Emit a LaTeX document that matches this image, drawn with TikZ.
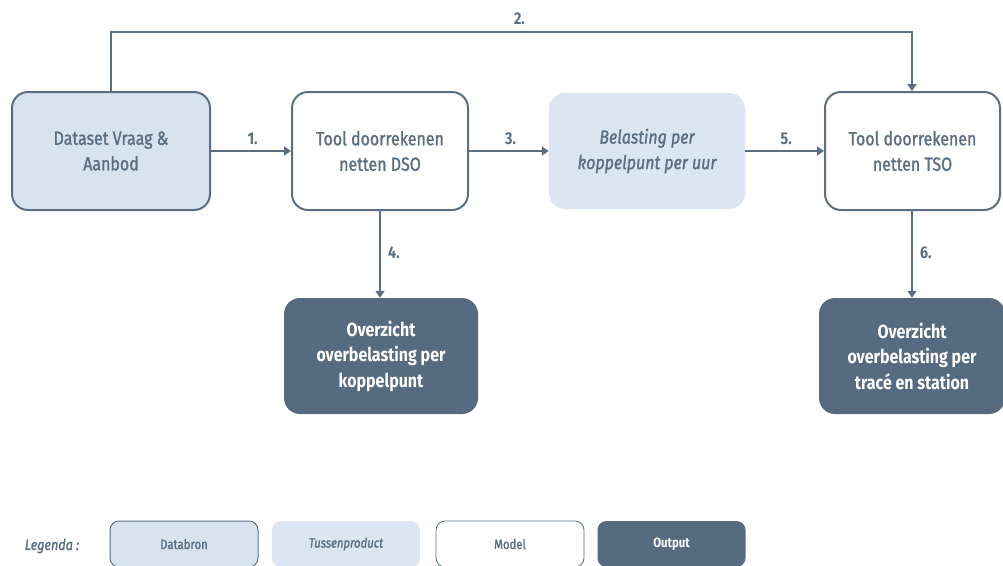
\documentclass[tikz,border=0pt]{standalone}
\usepackage{fontspec}
\setmainfont{Fira Sans}[FakeStretch=0.84]
\newfontfamily\medfont{Fira Sans}[FakeStretch=0.84, FakeBold=1.3]
\newfontfamily\heavyfont{Fira Sans}[FakeStretch=0.9, FakeBold=1.5, UprightFont=*, BoldFont=* Bold]
\usetikzlibrary{arrows.meta}
\definecolor{ink}{HTML}{5B6E82}
\definecolor{dark}{HTML}{576B80}
\definecolor{lightA}{HTML}{D9E3F0}
\definecolor{lightB}{HTML}{DCE5F2}
\tikzset{
  base/.style={rounded corners=16pt, align=center, inner sep=0pt, font=\fontsize{19}{25.5}\selectfont\medfont, text=ink},
  databox/.style={base, draw=ink, line width=2pt, fill=lightA},
  tussbox/.style={base, fill=lightB},
  modelbox/.style={base, draw=ink, line width=2pt, fill=white},
  outbox/.style={base, fill=dark, text=white, font=\fontsize{19}{25.5}\selectfont\bfseries},
  conn/.style={draw=ink, line width=2pt, -{Triangle[length=7pt,width=9pt]}},
  num/.style={text=ink, inner sep=1pt, font=\fontsize{17}{19}\selectfont\bfseries},
  leg/.style={rounded corners=9pt, minimum width=148pt, minimum height=46pt, inner sep=0pt, text=ink, font=\fontsize{13.5}{15}\selectfont\medfont}
}
\begin{document}
\begin{tikzpicture}[x=1pt,y=-1pt]
\useasboundingbox (0,0) rectangle (1003,565);
\node[databox, minimum width=198pt, minimum height=118pt] (ds) at (111,151) {Dataset Vraag \&\\Aanbod};
\node[modelbox, minimum width=176pt, minimum height=118pt] (dso) at (380,151) {Tool doorrekenen\\netten DSO};
\node[tussbox, minimum width=196pt, minimum height=116pt] (bel) at (647,151) {\itshape Belasting per\\\itshape koppelpunt per uur};
\node[modelbox, minimum width=175pt, minimum height=118pt] (tso) at (912.5,151) {Tool doorrekenen\\netten TSO};
\node[outbox, minimum width=194pt, minimum height=116pt] (odso) at (381,356) {Overzicht\\overbelasting per\\koppelpunt};
\node[outbox, minimum width=186pt, minimum height=116pt] (otso) at (912,356) {Overzicht\\overbelasting per\\tracé en station};
\coordinate (c2a) at (111,32);
\coordinate (c2b) at (912,32);
\draw[conn] (ds) -- node[num, above=4pt, pos=0.52] {1.} (dso);
\draw[conn, rounded corners=0pt] (ds.north) -- (c2a) -- node[num, above=5pt, pos=0.51] {2.} (c2b) -- (tso.north -| c2b);
\draw[conn] (dso) -- node[num, above=4pt, pos=0.52] {3.} (bel);
\draw[conn] (bel) -- node[num, above=4pt, pos=0.52] {5.} (tso);
\draw[conn] (dso.south -| 380,0) -- node[num, right=6pt, pos=0.48] {4.} (odso.north -| 380,0);
\draw[conn] (tso.south -| c2b) -- node[num, right=6pt, pos=0.48] {6.} (otso.north -| c2b);
\node[text=ink, font=\fontsize{15}{17}\selectfont\medfont\itshape] (legt) at (52,546) {Legenda :};
\node[leg, draw=ink, line width=1pt, fill=lightA] (l1) at (184,544) {Databron};
\node[leg, fill=lightB, font=\fontsize{13.5}{15}\selectfont\medfont\itshape] (l2) at (346,544) {Tussenproduct};
\node[leg, draw=ink, line width=0.8pt, fill=white] (l3) at (510,544) {Model};
\node[leg, fill=dark, text=white, font=\fontsize{13.5}{15}\selectfont\bfseries] (l4) at (671.5,544) {Output};
\end{tikzpicture}
\end{document}
